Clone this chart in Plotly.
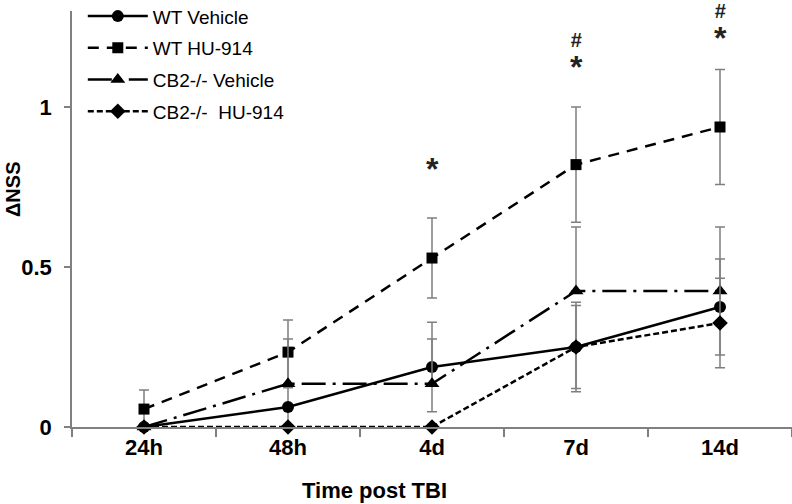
import plotly.graph_objects as go

categories = ["24h", "48h", "4d", "7d", "14d"]

wt_vehicle = [0.0, 0.0625, 0.1875, 0.25, 0.375]
wt_vehicle_err = [0.0, 0.06, 0.14, 0.14, 0.15]

wt_hu = [0.056, 0.234, 0.528, 0.82, 0.9375]
wt_hu_err = [0.06, 0.10, 0.125, 0.18, 0.18]

cb2_vehicle = [0.0, 0.135, 0.135, 0.425, 0.425]
cb2_vehicle_err = [0.0, 0.14, 0.14, 0.2, 0.2]

cb2_hu = [0.0, 0.0, 0.0, 0.25, 0.325]
cb2_hu_err = [0.0, 0.0, 0.0, 0.13, 0.14]

sig_x = ["4d", "7d", "14d"]
sig_y = [0.745, 1.062, 1.152]
sig_text = ["*", "#|*", "#|*"]

FONT = "Liberation Sans, Arial, sans-serif"
ERR_COLOR = "#7f7f7f"


def err(vals, errs, plus_only=False):
    minus = [0 if plus_only else min(e, v) for v, e in zip(vals, errs)]
    return dict(type="data", symmetric=False, array=errs, arrayminus=minus,
                color=ERR_COLOR, thickness=1.5, width=5, visible=True)


series = [
    ("WT Vehicle", wt_vehicle, wt_vehicle_err, "solid", "circle", 12, False),
    ("WT HU-914", wt_hu, wt_hu_err, "11px,8px", "square", 11, False),
    ("CB2-/- Vehicle", cb2_vehicle, cb2_vehicle_err, "24px,7px,3px,7px", "triangle-up", 13, True),
    ("CB2-/-  HU-914", cb2_hu, cb2_hu_err, "6px,3px", "diamond", 12, False),
]

fig = go.Figure()
for i, (name, vals, errs, dash, sym, msize, plus_only) in enumerate(series):
    fig.add_trace(go.Scatter(
        x=categories, y=vals, name=name, mode="lines+markers",
        line=dict(color="black", width=2.5, dash=dash),
        marker=dict(symbol=sym, size=msize, color="black"),
        error_y=err(vals, errs, plus_only),
        legendgroup=f"g{i}", cliponaxis=False,
    ))


def sig_label(t):
    parts = []
    for p in t.split("|"):
        if p == "#":
            parts.append("<span style='font-size:20px'><b>#</b></span>")
        else:
            parts.append("<span style='font-size:32px'><b>*</b></span>")
    return "<br>".join(parts)


for x, y, t in zip(sig_x, sig_y, sig_text):
    fig.add_annotation(x=x, y=y, text=sig_label(t), showarrow=False,
                       font=dict(family=FONT, size=24, color="#222"),
                       yanchor="bottom", align="center")

fig.add_annotation(xref="paper", yref="paper", x=(374 - 72) / 720, y=-0.152,
                   text="<b>Time post TBI</b>", showarrow=False, yanchor="middle",
                   font=dict(family=FONT, size=22, color="black"))
fig.add_annotation(xref="paper", yref="paper", x=-0.082, y=0.572,
                   text="<b>ΔNSS</b>", showarrow=False, textangle=-90,
                   xanchor="center", yanchor="middle",
                   font=dict(family=FONT, size=20, color="black"))

fig.update_layout(
    width=792, height=504,
    margin=dict(l=72, r=0, t=11, b=77, autoexpand=False),
    paper_bgcolor="white", plot_bgcolor="white",
    font=dict(family=FONT, color="black"),
    showlegend=True,
    legend=dict(x=0.015, y=1.033, xanchor="left", yanchor="top",
                bgcolor="rgba(0,0,0,0)", font=dict(family=FONT, size=19, color="black"),
                traceorder="grouped", tracegroupgap=4, itemwidth=60),
)
fig.update_xaxes(
    type="category", range=[-0.5, 4.5], tickson="boundaries", automargin=False,
    ticks="outside", ticklen=8, tickwidth=1.5, tickcolor="#808080",
    showline=True, linecolor="#808080", linewidth=1.5, showgrid=False, zeroline=False,
    tickvals=categories, ticktext=[f"<b>{c}</b>" for c in categories],
    tickfont=dict(family=FONT, size=22, color="black"),
)
fig.update_yaxes(
    range=[0, 1.3], tickvals=[0, 0.5, 1], ticktext=["<b>0</b>", "<b>0.5</b>", "<b>1</b>"],
    automargin=False, ticks="outside", ticklen=6, tickwidth=1.5, tickcolor="#808080",
    showline=True, linecolor="#808080", linewidth=1.5, showgrid=False, zeroline=False,
    tickfont=dict(family=FONT, size=22, color="black"), ticklabelstandoff=8,
)

fig.write_html("out.html", config={"displayModeBar": False},
               post_script="document.body.style.margin='0';")
